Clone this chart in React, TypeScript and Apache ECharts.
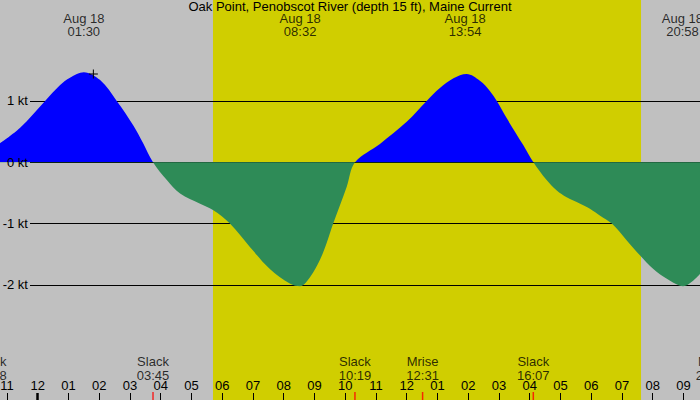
import * as echarts from "echarts";
import { useEffect, useRef } from "react";

const TITLE = "Oak Point, Penobscot River (depth 15 ft), Maine Current";
const FONT = "Liberation Sans";

// hours from midnight Aug 18, current speed in knots
const hours = [
  -1.23, -0.58, 0.24, 0.73, 1.05, 1.5, 2.03, 2.57, 3.11, 3.43, 3.75,
  4.2, 4.63, 5.28, 5.7, 6.25, 6.9, 7.55, 8.21, 8.53, 8.86, 9.18, 9.4, 9.61,
  10.05, 10.32, 11.13, 12.0, 12.65, 13.08, 13.52, 13.95, 14.38, 14.71, 14.93,
  15.25, 15.79, 16.12, 16.55, 16.88, 17.2, 17.64, 17.97, 18.29, 18.67, 19.15,
  19.59, 20.02, 20.46, 20.99, 21.54,
];
const knots = [
  0.31, 0.56, 1.0, 1.26, 1.38, 1.47, 1.34, 1.0, 0.6, 0.31, 0, -0.29, -0.51,
  -0.675, -0.78, -1.0, -1.38, -1.74, -1.98, -2.02, -1.87, -1.59, -1.31, -1.0,
  -0.4, 0, 0.3, 0.66, 1.0, 1.21, 1.37, 1.44, 1.33, 1.16, 1.0, 0.72, 0.28, 0,
  -0.29, -0.46, -0.57, -0.675, -0.76, -0.87, -1.0, -1.27, -1.52, -1.74, -1.9,
  -2.02, -1.82,
];

// max / min current labels along the top
const peakHours = [1.5, 8.533, 13.9, 20.967];
const peakLabels = ["Aug 18\n01:30", "Aug 18\n08:32", "Aug 18\n13:54", "Aug 18\n20:58"];

// slack water and moon events along the bottom
const eventHours = [-1.533, 3.75, 10.317, 12.517, 16.117, 21.93];
const eventLabels = [
  "Slack\n22:28",
  "Slack\n03:45",
  "Slack\n10:19",
  "Mrise\n12:31",
  "Slack\n16:07",
  "Mset\n21:56",
];

const hourTicks = [-1, 0, 1, 2, 3, 4, 5, 6, 7, 8, 9, 10, 11, 12, 13, 14, 15, 16, 17, 18, 19, 20, 21];
const midnightTicks = [0];
const knotTicks = [-2, -1, 0, 1];

const sunrise = 5.7;
const sunset = 19.62;
const transit = [1.81, 1.44];

const X_MIN = -1.226;
const X_MAX = 21.538;
const Y_MIN = -3.876;
const Y_MAX = 2.646;

const hourLabel = (v: number) => {
  const h = (((Math.round(v) % 12) + 12) % 12) || 12;
  return String(h).padStart(2, "0");
};

const textStyle = { color: "#000", fontSize: 13, fontFamily: FONT };

const App = () => {
  const chartRef = useRef<HTMLDivElement>(null);

  useEffect(() => {
    if (!chartRef.current) return;
    document.body.style.margin = "0";
    const chart = echarts.init(chartRef.current, undefined, { renderer: "svg" });

    const hiddenBits = {
      axisLine: { show: false, onZero: false },
      splitLine: { show: false },
    };

    const option = {
      animation: false,
      backgroundColor: "#C0C0C0",
      title: {
        text: TITLE,
        left: "center",
        top: 0,
        padding: 0,
        textStyle: { ...textStyle, fontWeight: "normal" },
      },
      grid: [
        { left: 0, right: 0, top: 0, bottom: 0, outerBoundsMode: "none" },
        { left: 30, right: 0, top: 0, bottom: 0, outerBoundsMode: "none" },
      ],
      xAxis: [
        {
          type: "value",
          gridIndex: 0,
          min: X_MIN,
          max: X_MAX,
          position: "bottom",
          z: 3,
          ...hiddenBits,
          axisTick: {
            show: true,
            inside: true,
            length: 7,
            customValues: hourTicks,
            lineStyle: { color: "#000", width: 1 },
          },
          axisLabel: {
            show: true,
            inside: true,
            margin: 8,
            customValues: hourTicks,
            formatter: hourLabel,
            ...textStyle,
          },
        },
        { type: "value", gridIndex: 1, min: 0, max: 1, show: false },
        {
          type: "value",
          gridIndex: 0,
          min: X_MIN,
          max: X_MAX,
          position: "bottom",
          z: 3,
          ...hiddenBits,
          axisLabel: { show: false },
          axisTick: {
            show: true,
            inside: true,
            length: 7,
            customValues: midnightTicks,
            lineStyle: { color: "#000", width: 2.5 },
          },
        },
      ],
      yAxis: [
        { type: "value", gridIndex: 0, min: Y_MIN, max: Y_MAX, show: false },
        {
          // level lines, under the current fill
          type: "value",
          gridIndex: 1,
          min: Y_MIN,
          max: Y_MAX,
          position: "left",
          z: 3,
          ...hiddenBits,
          axisLabel: { show: false },
          axisTick: {
            show: true,
            inside: true,
            length: 670,
            customValues: knotTicks,
            lineStyle: { color: "#000", width: 1 },
          },
        },
        {
          // level labels, over the current fill
          type: "value",
          gridIndex: 1,
          min: Y_MIN,
          max: Y_MAX,
          position: "left",
          z: 8,
          ...hiddenBits,
          axisTick: { show: false },
          axisLabel: {
            show: true,
            margin: 2,
            customValues: knotTicks,
            formatter: (v: number) => `${v} kt`,
            ...textStyle,
          },
        },
      ],
      visualMap: {
        type: "piecewise",
        show: false,
        seriesIndex: 1,
        dimension: 1,
        pieces: [
          { gt: -100, lte: 0, color: "#2E8B57" },
          { gt: 0, lte: 100, color: "#0000FF" },
        ],
      },
      series: [
        {
          type: "custom",
          xAxisIndex: 0,
          yAxisIndex: 0,
          z: 1,
          silent: true,
          data: [[sunrise, sunset]],
          renderItem: (_params: any, api: any) => {
            const p0 = api.coord([api.value(0), Y_MAX]);
            const p1 = api.coord([api.value(1), Y_MIN]);
            return {
              type: "rect",
              shape: { x: p0[0], y: p0[1], width: p1[0] - p0[0], height: p1[1] - p0[1] },
              style: { fill: "#D0CE00" },
            };
          },
        },
        {
          type: "line",
          xAxisIndex: 0,
          yAxisIndex: 0,
          z: 5,
          smooth: 0.35,
          showSymbol: false,
          symbol: "none",
          lineStyle: { width: 0 },
          areaStyle: { opacity: 1 },
          data: hours.map((h, i) => [h, knots[i]]),
        },
        {
          type: "scatter",
          xAxisIndex: 0,
          yAxisIndex: 0,
          z: 6,
          clip: false,
          symbol: "rect",
          symbolSize: [1.5, 16],
          itemStyle: { color: "#FF0000" },
          label: {
            show: true,
            position: "top",
            distance: 10,
            formatter: (p: any) => eventLabels[p.dataIndex],
            lineHeight: 14,
            ...textStyle,
          },
          data: eventHours.map((h) => [h, Y_MIN]),
        },
        {
          type: "scatter",
          xAxisIndex: 0,
          yAxisIndex: 0,
          z: 6,
          clip: false,
          symbolSize: 0,
          label: {
            show: true,
            position: "bottom",
            distance: 12,
            formatter: (p: any) => peakLabels[p.dataIndex],
            lineHeight: 13,
            ...textStyle,
          },
          data: peakHours.map((h) => [h, Y_MAX]),
        },
        {
          type: "scatter",
          xAxisIndex: 0,
          yAxisIndex: 0,
          z: 6,
          color: "#000",
          symbol: "path://M4,0H5V9H4ZM0,4H9V5H0Z",
          symbolSize: 9,
          itemStyle: { color: "#000", opacity: 1 },
          data: [transit],
        },
      ],
    };

    chart.setOption(option);

    return () => {
      chart.dispose();
    };
  }, []);

  return <div ref={chartRef} style={{ width: "700px", height: "400px" }} />;
};

export default App;
